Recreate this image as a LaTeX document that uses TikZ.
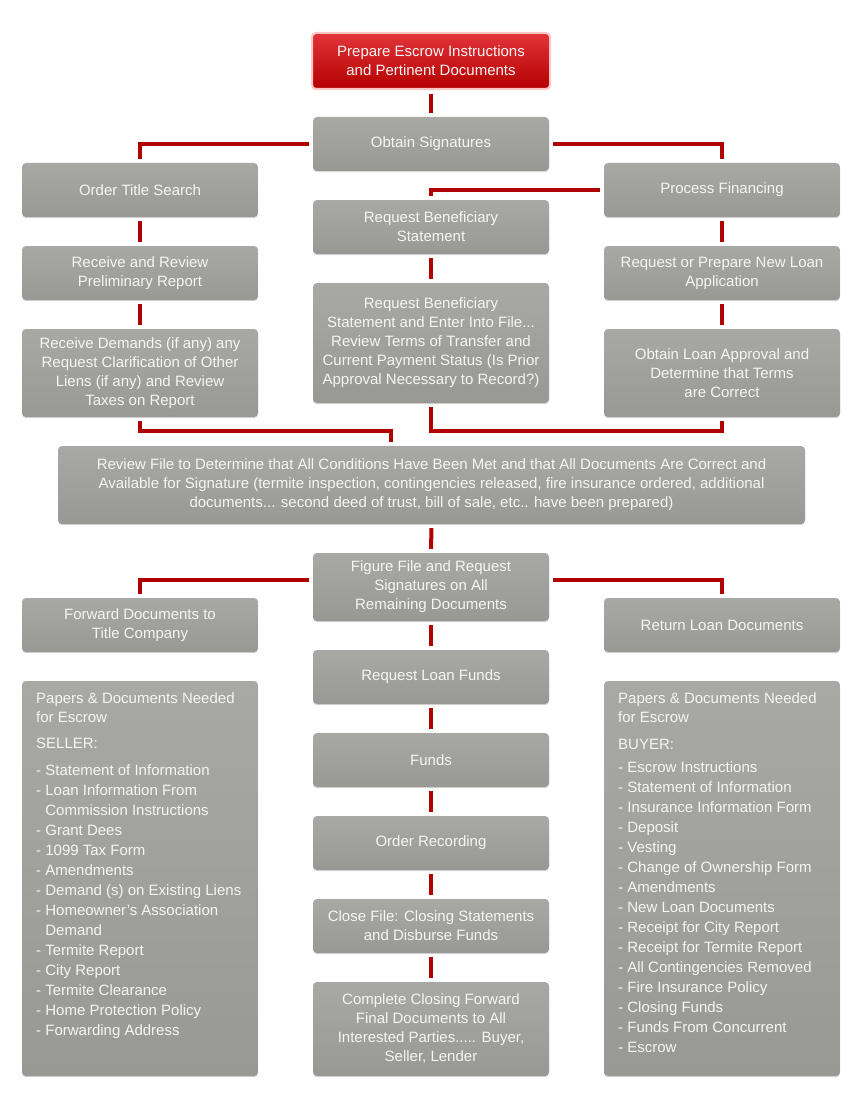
\documentclass[tikz,border=0pt]{standalone}
\usepackage{fontspec}
\setmainfont{Liberation Sans}
\usetikzlibrary{shadows,calc}
\definecolor{conred}{HTML}{B00000}
\definecolor{boxtop}{HTML}{A8A8A4}
\definecolor{boxbot}{HTML}{989895}
\definecolor{redtop}{HTML}{E2343A}
\definecolor{redbot}{HTML}{B40000}
\definecolor{redrim}{HTML}{FFC4C4}
\definecolor{txt}{HTML}{F5F5F5}
\begin{document}
\begin{tikzpicture}[x=1pt,y=-1pt,
  box/.style={rectangle, rounded corners=4pt, top color=boxtop, bottom color=boxbot,
    text=txt, align=center, font=\fontsize{15}{19}\selectfont, inner sep=0pt,
    minimum width=236pt, minimum height=54pt,
    drop shadow={shadow xshift=0pt, shadow yshift=-1.2pt, opacity=0.3}},
  redbox/.style={box, top color=redtop, bottom color=redbot, draw=redrim, line width=2pt,
    minimum width=238pt, minimum height=56pt},
  conn/.style={draw=conred, line width=4pt, shorten <=4pt, shorten >=4pt},
  listtxt/.style={text=txt, align=left, font=\fontsize{15}{20}\selectfont, inner sep=0pt, anchor=north west}
]
\useasboundingbox[fill=white] (0,0) rectangle (863,1110);

\node[redbox] (prep) at (431,61) {Prepare Escrow Instructions\\and Pertinent Documents};
\node[box] (obtain) at (431,144) {Obtain Signatures};
\node[box] (title) at (140,190) {Order Title Search};
\node[box] (fin) at (722,190) {Process Financing};
\node[box] (benef) at (431,227) {Request Beneficiary\\Statement};
\node[box] (prelim) at (140,273) {Receive and Review\\Preliminary Report};
\node[box] (loanapp) at (722,273) {Request or Prepare New Loan\\Application};
\node[box, minimum height=88pt] (demands) at (140,373) {Receive Demands (if any) any\\Request Clarification of Other\\Liens (if any) and Review\\Taxes on Report};
\node[box, minimum height=120pt] (benefst) at (431,343) {Request Beneficiary\\Statement and Enter Into File...\\Review Terms of Transfer and\\Current Payment Status (Is Prior\\Approval Necessary to Record?)};
\node[box, minimum height=88pt] (approval) at (722,373) {Obtain Loan Approval and\\Determine that Terms\\are Correct};
\node[box, minimum width=747pt, minimum height=78pt] (review) at (431.5,485) {Review File to Determine that All Conditions Have Been Met and that All Documents Are Correct and\\Available for Signature (termite inspection, contingencies released, fire insurance ordered, additional\\documents... second deed of trust, bill of sale, etc.. have been prepared)};
\node[box, minimum height=68pt] (figure) at (431,587) {Figure File and Request\\Signatures on All\\Remaining Documents};
\node[box] (forward) at (140,625) {Forward Documents to\\Title Company};
\node[box] (returnl) at (722,625) {Return Loan Documents};
\node[box] (loanfunds) at (431,677) {Request Loan Funds};
\node[box] (funds) at (431,760) {Funds};
\node[box] (recording) at (431,843) {Order Recording};
\node[box] (close) at (431,926) {Close File: Closing Statements\\and Disburse Funds};
\node[box, minimum height=94pt] (complete) at (431,1029) {Complete Closing Forward\\Final Documents to All\\Interested Parties..... Buyer,\\Seller, Lender};
\node[box, minimum height=395pt] (seller) at (140,878.5) {};
\node[box, minimum height=395pt] (buyer) at (722,878.5) {};

\node[listtxt] (sellertxt) at (36,692) {Papers \& Documents Needed\\[-1pt]for Escrow\\[6pt]SELLER:\\[7pt]- Statement of Information\\- Loan Information From\\\hphantom{- }Commission Instructions\\- Grant Dees\\- 1099 Tax Form\\- Amendments\\- Demand (s) on Existing Liens\\- Homeowner's Association\\\hphantom{- }Demand\\- Termite Report\\- City Report\\- Termite Clearance\\- Home Protection Policy\\- Forwarding Address};
\node[listtxt] (buyertxt) at (618,692) {Papers \& Documents Needed\\[-1pt]for Escrow\\[7pt]BUYER:\\[3pt]- Escrow Instructions\\- Statement of Information\\- Insurance Information Form\\- Deposit\\- Vesting\\- Change of Ownership Form\\- Amendments\\- New Loan Documents\\- Receipt for City Report\\- Receipt for Termite Report\\- All Contingencies Removed\\- Fire Insurance Policy\\- Closing Funds\\- Funds From Concurrent\\- Escrow};

\draw[conn] (prep.south) -- (obtain.north);
\draw[conn] (obtain.west) -| (title.north);
\draw[conn] (obtain.east) -| (fin.north);
\draw[conn] (fin.west) -| (benef.north);
\draw[conn] (title.south) -- (prelim.north);
\draw[conn] (prelim.south) -- (demands.north);
\draw[conn] (fin.south) -- (loanapp.north);
\draw[conn] (loanapp.south) -- (approval.north);
\draw[conn] (benef.south) -- (benefst.north);
\coordinate (jl) at (391,431);
\draw[conn] (demands.south) |- (jl) -- (jl |- review.north);
\coordinate (jr) at (722,431);
\draw[conn] (benefst.south) |- (jr) -- (approval.south);
\draw[conn] (review.south) -- (figure.north);
\draw[conn] ([yshift=7pt]figure.west) -| (forward.north);
\draw[conn] ([yshift=7pt]figure.east) -| (returnl.north);
\draw[conn] (figure.south) -- (loanfunds.north);
\draw[conn] (loanfunds.south) -- (funds.north);
\draw[conn] (funds.south) -- (recording.north);
\draw[conn] (recording.south) -- (close.north);
\draw[conn] (close.south) -- (complete.north);
\end{tikzpicture}
\end{document}
